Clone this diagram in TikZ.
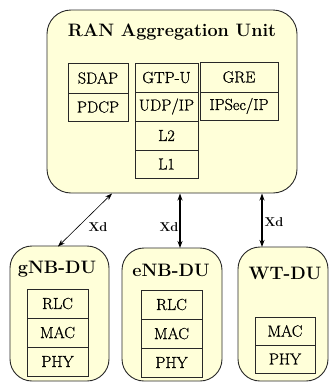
\documentclass[tikz,border=0pt]{standalone}
\usepackage{fontspec}
\newfontfamily\lblfont{Latin Modern Roman}[FakeBold=0.9]
\usetikzlibrary{arrows.meta}
\definecolor{unitfill}{RGB}{255,255,217}
\definecolor{edge}{RGB}{40,40,40}
\tikzset{
  unit/.style={draw=edge, line width=0.9pt, fill=unitfill, rounded corners=24pt},
  layer/.style={draw=edge, line width=0.8pt, fill=unitfill, inner sep=0pt},
  title/.style={font=\fontsize{18}{20}\selectfont\bfseries, inner sep=0pt},
  lbl/.style={font=\lblfont\fontsize{16}{18}\selectfont, inner sep=0pt},
  xd/.style={font=\fontsize{12.8}{14}\selectfont\bfseries, inner sep=0pt},
  link/.style={draw=black, {Stealth[length=7pt,width=5pt]}-{Stealth[length=7pt,width=5pt]}},
}
\newcommand{\layerbox}[6]{% name, x1, y1, x2, y2, text
  \draw[layer] (#2,#3) rectangle (#4,#5);
  \node[lbl] (#1) at ({(#2+#4)/2},{(#3+#5)/2}) {#6};
}
\begin{document}
\begin{tikzpicture}[x=1pt,y=-1pt]
\useasboundingbox (0,0) rectangle (330,383);
% top unit
\draw[unit] (47,10) rectangle (297,193);
\node[title] (rau) at (172,32) {RAN Aggregation Unit};
\layerbox{sdap}{68}{63}{128}{93}{SDAP}
\layerbox{pdcp}{68}{93}{128}{121}{PDCP}
\layerbox{gtpu}{135}{63}{198}{92}{GTP-U}
\layerbox{udpip}{135}{92}{198}{121}{UDP/IP}
\layerbox{ltwo}{135}{121}{198}{150}{L2}
\layerbox{lone}{135}{150}{198}{178}{L1}
\layerbox{gre}{200}{62}{278}{92}{GRE}
\layerbox{ipsec}{200}{92}{278}{120}{IPSec/IP}
% gNB-DU
\draw[unit, rounded corners=22pt] (10,246) rectangle (109,381);
\node[title] (gnb) at (57,269) {gNB-DU};
\layerbox{grlc}{27}{289}{88}{318}{RLC}
\layerbox{gmac}{27}{318}{88}{347}{MAC}
\layerbox{gphy}{27}{347}{88}{376}{PHY}
% eNB-DU
\draw[unit, rounded corners=22pt] (122,248) rectangle (222,381);
\node[title] (enb) at (171,270) {eNB-DU};
\layerbox{erlc}{141}{290}{202}{319}{RLC}
\layerbox{emac}{141}{319}{202}{348}{MAC}
\layerbox{ephy}{141}{348}{202}{377}{PHY}
% WT-DU
\draw[unit, rounded corners=22pt] (238,247) rectangle (328,381);
\node[title] (wt) at (285,273) {WT-DU};
\layerbox{wmac}{255}{317}{315}{345}{MAC}
\layerbox{wphy}{255}{345}{315}{373}{PHY}
% links
\coordinate (g1) at (112,193.5);
\coordinate (g2) at (58,246.5);
\coordinate (e1) at (180,193.5);
\coordinate (e2) at (180,248);
\coordinate (w1) at (262,193.5);
\coordinate (w2) at (262,247);
\draw[link, line width=0.6pt] (g1) -- (g2);
\draw[link, line width=1.1pt] (e1) -- (e2);
\draw[link, line width=1.1pt] (w1) -- (w2);
\node[xd] (xg) at (98,227) {Xd};
\node[xd] (xe) at (169,227) {Xd};
\node[xd] (xw) at (274,222) {Xd};
\end{tikzpicture}
\end{document}
